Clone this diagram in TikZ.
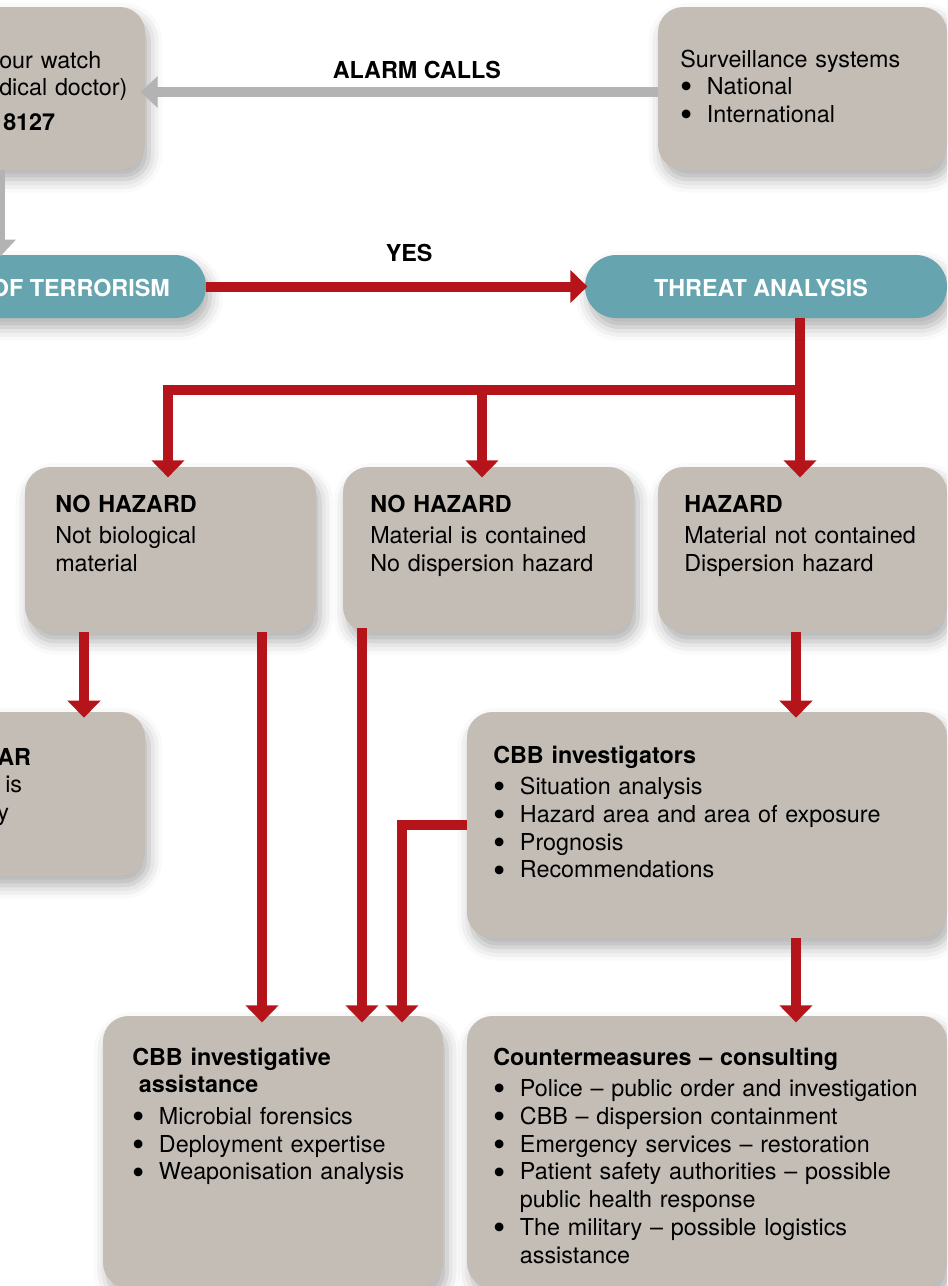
\documentclass[tikz,border=0pt]{standalone}
\usepackage{fontspec}
\setmainfont{TeX Gyre Heros}
\usetikzlibrary{arrows.meta}
\usetikzlibrary{fit}
\usetikzlibrary{shadows.blur}

\definecolor{boxgray}{HTML}{C4BDB6}
\definecolor{pillteal}{HTML}{66A5AF}
\definecolor{flowred}{HTML}{B5151A}
\definecolor{alarmgray}{HTML}{B3B3B3}

\newcommand{\bodyfont}{\fontsize{17.5}{20.8}\selectfont}
\newcommand{\itm}{\par\hangindent=20pt\hangafter=1\noindent\makebox[20pt][l]{\hspace{0.5pt}\smash{\raisebox{-0.18em}{\scalebox{1.5}{\textbullet}}}}}
\newcommand{\hdgap}{\par\vspace{3pt}}

\tikzset{
  box/.style={fill=boxgray, rounded corners=19pt, inner sep=0pt,
    blur shadow={shadow xshift=3pt, shadow yshift=-7pt, shadow blur radius=10pt, shadow opacity=32}},
  pill/.style={fill=pillteal, rounded corners=23.5pt, inner sep=0pt,
    blur shadow={shadow xshift=3pt, shadow yshift=-7pt, shadow blur radius=10pt, shadow opacity=32}},
  txt/.style={anchor=base west, inner sep=0pt, text width=#1, align=left, font=\bodyfont},
  txt/.default=330pt,
  lbl/.style={anchor=base, inner sep=0pt, font=\bodyfont\bfseries},
  pilltxt/.style={inner sep=0pt, font=\bodyfont\bfseries, text=white},
  redarrow/.style={draw=flowred, line width=7.5pt, -{Triangle[width=24pt,length=12.75pt]}, shorten >=-4.5pt},
  grayarrow/.style={draw=alarmgray, line width=7.5pt, -{Triangle[width=23pt,length=12.75pt]}, shorten >=-3.5pt}
}

\begin{document}
\begin{tikzpicture}[x=0.75pt,y=-0.75pt]
\useasboundingbox (0,0) rectangle (947,1286);
\clip (0,0) rectangle (947,1286);

% boxes
\node[box, fit={(-80,7) (145,170)}] (watch) {};
\node[box, fit={(658,7) (947,170)}] (surv) {};
\node[pill, fit={(-80,255) (206,318)}] (terror) {};
\node[pill, fit={(585,255) (947,318)}] (threat) {};
\node[box, fit={(25,467) (316,632)}] (nohazA) {};
\node[box, fit={(343,467) (634,632)}] (nohazB) {};
\node[box, fit={(658,467) (947,632)}] (hazard) {};
\node[box, fit={(-80,712) (145,876)}] (clear) {};
\node[box, fit={(467,712) (947,938)}] (investig) {};
\node[box, fit={(103,1016) (443,1288)}] (assist) {};
\node[box, fit={(467,1016) (947,1288)}] (counter) {};

% texts
\node[txt=200pt] (watchtxt) at (-1,68) {our watch\\dical doctor)\\[5pt]\hspace*{3pt}\bfseries 8127};
\node[txt] (survtxt) at (680,67) {Surveillance systems\itm National\itm International\par};
\node[pilltxt, anchor=base east] (terrortxt) at (170,296) {OF TERRORISM};
\node[pilltxt, anchor=base] (threattxt) at (761,296) {THREAT ANALYSIS};
\node[txt] (nohazAtxt) at (55,512) {\textbf{NO HAZARD}\hdgap Not biological\\material};
\node[txt] (nohazBtxt) at (370,512) {\textbf{NO HAZARD}\hdgap Material is contained\\No dispersion hazard};
\node[txt] (hazardtxt) at (684,512) {\textbf{HAZARD}\hdgap Material not contained\\Dispersion hazard};
\node[txt=200pt] (cleartxt) at (-3,765) {\textbf{AR}\\\hspace*{6pt}is\\y};
\node[txt] (investigtxt) at (493,763) {\textbf{CBB investigators}\hdgap
  \itm Situation analysis\itm Hazard area and area of exposure\itm Prognosis\itm Recommendations\par};
\node[txt] (assisttxt) at (132,1065) {\textbf{CBB investigative}\\\hspace*{5pt}\textbf{assistance}\hdgap
  \itm Microbial forensics\itm Deployment expertise\itm Weaponisation analysis\par};
\node[txt=400pt] (countertxt) at (493,1065) {\textbf{Countermeasures -- consulting}\hdgap
  \itm Police -- public order and investigation\itm CBB -- dispersion containment
  \itm Emergency services -- restoration\itm Patient safety authorities -- possible\newline public health response
  \itm The military -- possible logistics\newline assistance\par};

% connectors
\coordinate (split) at (800,390);
\draw[grayarrow] (surv.west |- 0,92) -- node[lbl, pos=.47, yshift=10.5pt] {ALARM CALLS} (watch.east |- 0,92);
\draw[grayarrow, shorten >=-1.5pt] (watch.south -| 0,0) -- (terror.north -| 0,0);
\draw[redarrow, shorten >=-2pt] (terror.east) -- node[lbl, pos=.536, yshift=18.75pt] {YES} (threat.west);
\draw[redarrow, shorten >=-8pt] (threat.south -| split) -- (hazard.north -| split);
\draw[redarrow, shorten >=-8pt] (split) -| (nohazA.north -| 168,0);
\draw[redarrow, shorten >=-8pt] (split -| 482,0) -- (nohazB.north -| 482,0);
\draw[redarrow] (nohazA.south -| 84,0) -- (clear.north -| 84,0);
\draw[redarrow, shorten >=-5pt] (nohazA.south -| 262,0) -- (assist.north -| 262,0);
\draw[redarrow, shorten >=-5pt, shorten <=-3pt] (nohazB.south -| 362,0) -- (assist.north -| 362,0);
\draw[redarrow, shorten >=-5pt] (investig.west |- 0,825) -| (assist.north -| 402,0);
\draw[redarrow] (hazard.south -| 796,0) -- (investig.north -| 796,0);
\draw[redarrow, shorten >=-5pt] (investig.south -| 796,0) -- (counter.north -| 796,0);
\end{tikzpicture}
\end{document}
